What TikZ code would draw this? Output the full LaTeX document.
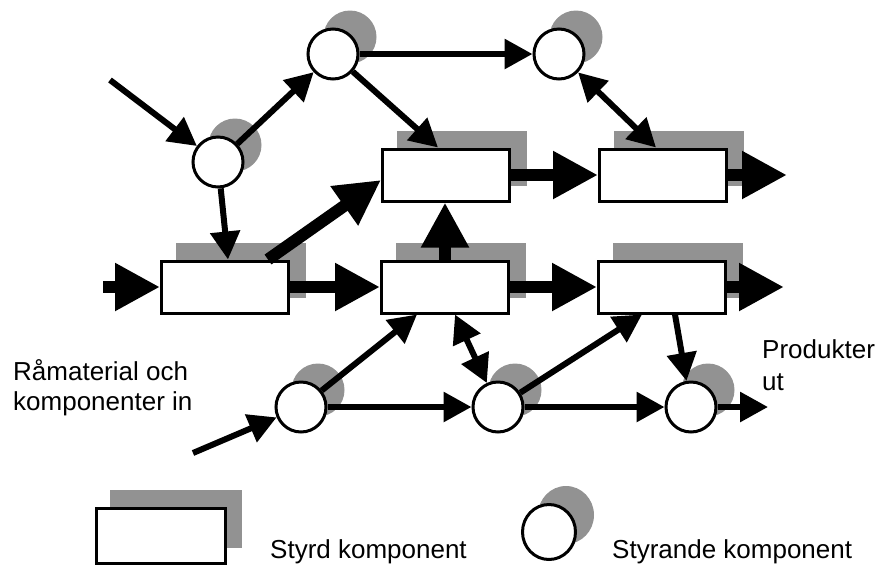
\documentclass[tikz,border=0pt]{standalone}
\usepackage{fontspec}
\setmainfont{Liberation Sans}
\usetikzlibrary{arrows.meta,shapes.geometric,backgrounds}
\definecolor{shadecol}{RGB}{146,146,146}
\begin{document}
\begin{tikzpicture}[x=1pt,y=-1pt,
  ctrl/.style={circle,draw,line width=3pt,fill=white,minimum size=50pt,inner sep=0pt},
  box/.style={rectangle,draw,line width=3pt,fill=white,minimum width=127pt,minimum height=52pt,inner sep=0pt},
  thin/.style={line width=6pt,-{Triangle[length=28pt,width=29pt]}},
  thick/.style={line width=12pt,-{Triangle[length=45pt,width=45pt]}},
  twoway/.style={line width=6pt,{Triangle[length=28pt,width=29pt]}-{Triangle[length=28pt,width=29pt]}},
  lbl/.style={anchor=base west,inner sep=0pt,font=\fontsize{26}{30}\selectfont}]
\useasboundingbox (0,0) rectangle (879,566);

% controlling components (circles)
\node[ctrl] (c1) at (218,162) {};
\node[ctrl] (c2) at (333,54) {};
\node[ctrl] (c3) at (559,54) {};
\node[ctrl] (c4) at (301,407) {};
\node[ctrl] (c5) at (498,407) {};
\node[ctrl] (c6) at (691,407) {};

% controlled components (boxes)
\node[box] (b1) at (446,175) {};
\node[box] (b2) at (663,175) {};
\node[box] (b3) at (225,287) {};
\node[box] (b4) at (445,287) {};
\node[box] (b5) at (662,287) {};

% legend symbols
\node[box,minimum width=129pt,minimum height=55pt] (lb) at (161,536) {};
\node[ellipse,draw,line width=3pt,fill=white,minimum width=53pt,minimum height=55pt,inner sep=0pt] (lc) at (549,532) {};

% free ends of the flows
\coordinate (in1) at (110,80);
\coordinate (in2) at (103,287);
\coordinate (in3) at (193,453);
\coordinate (out1) at (787,175);
\coordinate (out2) at (784,287);
\coordinate (out3) at (768,407);

% grey shadows behind every component
\begin{scope}[on background layer]
  \foreach \n in {c1,c2,c3,c4,c5,c6}
    \fill[shadecol] ([shift={(17,-17)}]\n.center) circle[radius=26.5];
  \foreach \n in {b1,b2,b3,b4,b5}
    \fill[shadecol] ([shift={(16,-17)}]\n.south west) rectangle ([shift={(16,-17)}]\n.north east);
  \fill[shadecol] ([shift={(15,-17)}]lb.south west) rectangle ([shift={(15,-17)}]lb.north east);
  \fill[shadecol] ([shift={(17,-17)}]lc.center) ellipse[x radius=28, y radius=29];
\end{scope}

% material flow between boxes
\draw[thick] (in2) -- (b3.west);
\draw[thick] (b3.east) -- (b4.west);
\draw[thick] (b4.east) -- (b5.west);
\draw[thick] (b5.east) -- (out2);
\draw[thick] (b1.east) -- (b2.west);
\draw[thick] (b2.east) -- (out1);
\draw[thick] (b4.north) -- (b4.north |- b1.south);
\draw[thick] ([xshift=43pt]b3.north) -- ([yshift=-5pt]b1.west);

% control links
\draw[thin] (in1) -- (c1);
\draw[thin] (c1) -- (c2);
\draw[thin] (c2) -- (c3);
\draw[thin] (c2) -- ([xshift=-8pt]b1.north);
\draw[twoway] (c3) -- ([xshift=-7pt]b2.north);
\draw[thin] (c1) -- ([xshift=3pt]b3.north);
\draw[thin] (in3) -- (c4);
\draw[thin] (c4) -- ([xshift=-28pt]b4.south);
\draw[thin] (c4) -- (c5);
\draw[twoway] ([xshift=10pt]b4.south) -- (c5);
\draw[thin] (c5) -- ([xshift=-20pt]b5.south);
\draw[thin] (c5) -- (c6);
\draw[thin] ([xshift=13pt]b5.south) -- (c6);
\draw[thin] (c6) -- (out3);

% texts
\node[lbl] (t1) at (13,380) {Råmaterial och};
\node[lbl] (t2) at (13,410) {komponenter in};
\node[lbl] (t3) at (762,358) {Produkter};
\node[lbl] (t4) at (762,390) {ut};
\node[lbl] (t5) at (270,558) {Styrd komponent};
\node[lbl] (t6) at (612,558) {Styrande komponent};
\end{tikzpicture}
\end{document}
